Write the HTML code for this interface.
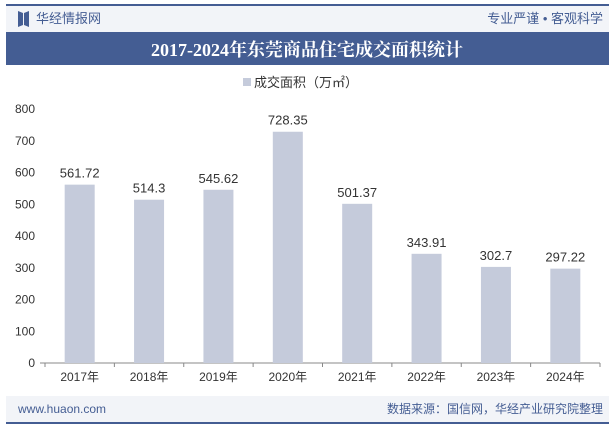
<!DOCTYPE html>
<html><head><meta charset="utf-8"><style>
body{margin:0;width:615px;height:427px;background:#fff;overflow:hidden;font-family:"Liberation Sans","Noto Sans CJK SC",sans-serif;}
</style></head><body>
<svg width="615" height="427" xmlns="http://www.w3.org/2000/svg" font-family="Liberation Sans, Noto Sans CJK SC, sans-serif">
<rect x="6" y="5" width="603" height="27" fill="#f2f4f8"/>
<rect x="6" y="4" width="603" height="2" fill="#445d93"/>
<g><path d="M18 11 L23 13 L23 25 L18 27 Z M24 13 L29 11 L29 27 L24 25 Z" fill="#445d93"/>
<text x="36" y="23" font-size="13" fill="#445d93">华经情报网</text></g>
<text x="603" y="23" font-size="13" fill="#445d93" text-anchor="end">专业严谨 • 客观科学</text>
<rect x="6" y="32" width="603" height="33" fill="#445d93"/>
<text x="307" y="56" font-size="18" font-weight="bold" fill="#fff" text-anchor="middle" font-family="Liberation Serif, Noto Serif CJK SC, serif">2017-2024年东莞商品住宅成交面积统计</text>
<rect x="243" y="78" width="8" height="8" fill="#c5cbdb"/>
<text x="254" y="87" font-size="13" fill="#333">成交面积（万㎡）</text>
<g id="chart"></g>
<rect x="6" y="396" width="603" height="26" fill="#f2f4f8"/>
<rect x="6" y="422" width="603" height="2" fill="#445d93"/>
<text x="18" y="413" font-size="12" fill="#445d93">www.huaon.com</text>
<text x="603" y="413" font-size="12" fill="#445d93" text-anchor="end">数据来源：国信网，华经产业研究院整理</text>
</svg>
<script>
const categories=["2017年","2018年","2019年","2020年","2021年","2022年","2023年","2024年"];
const values=[561.72,514.3,545.62,728.35,501.37,343.91,302.7,297.22];
const valueLabels=["561.72","514.3","545.62","728.35","501.37","343.91","302.7","297.22"];
const yTicks=[0,100,200,300,400,500,600,700,800];
const NS="http://www.w3.org/2000/svg";
const g=document.getElementById('chart');
const x0=45,x1=600,y0=363,yTop=109,yMax=800;
const band=(x1-x0)/categories.length;
const y=v=>y0-(v/yMax)*(y0-yTop);
const xc=i=>x0+band*(i+0.5);
function mk(t,a){const e=document.createElementNS(NS,t);for(const k in a)e.setAttribute(k,a[k]);g.appendChild(e);return e;}
yTicks.forEach(t=>{const e=mk('text',{x:35,y:y(t)+4,'font-size':12,fill:'#333','text-anchor':'end'});e.textContent=t;

});
const ax=mk('line',{x1:x0-5,x2:x1,y1:y0,y2:y0,stroke:'#888','stroke-width':1});


for(let i=0;i<=categories.length;i++){const tk=mk('line',{x1:x0+band*i,x2:x0+band*i,y1:y0,y2:y0+4,stroke:'#888'});

}
categories.forEach((c,i)=>{
const b=mk('rect',{x:xc(i)-15,y:y(values[i]),width:30,height:y0-y(values[i]),fill:'#c5cbdb'});


const l=mk('text',{x:xc(i),y:y(values[i])-7,'font-size':13,fill:'#333','text-anchor':'middle'});l.textContent=valueLabels[i];


const t=mk('text',{x:xc(i),y:y0+18,'font-size':12,fill:'#333','text-anchor':'middle'});t.textContent=c;


});
</script>
</body></html>
